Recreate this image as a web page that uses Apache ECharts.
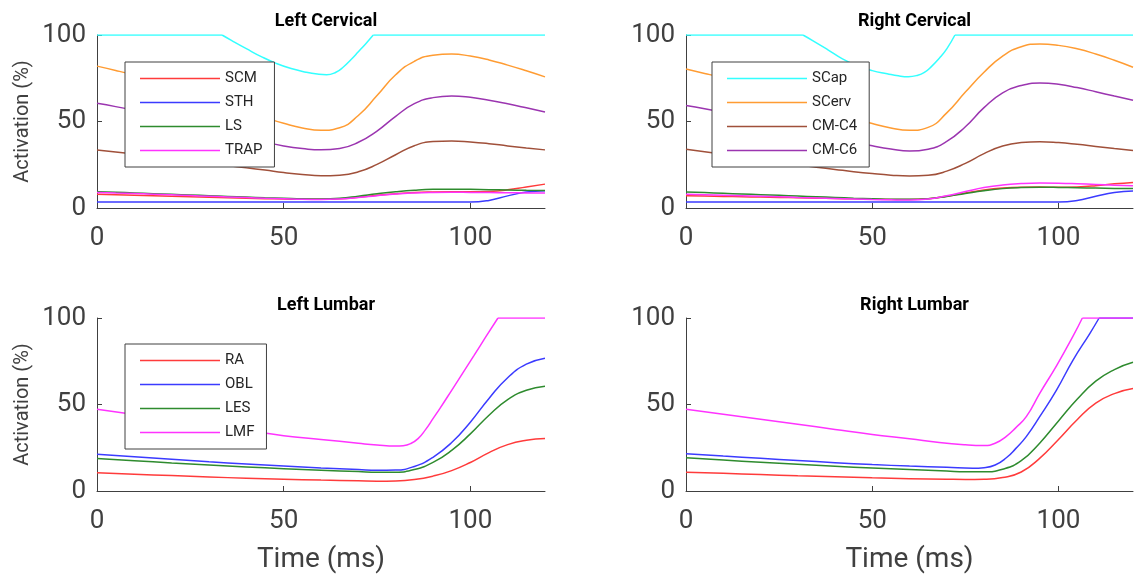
<!DOCTYPE html>
<html>
<head>
<meta charset="utf-8">
<script src="https://cdn.jsdelivr.net/npm/echarts@6/dist/echarts.min.js"></script>
<style>
  html, body { margin: 0; padding: 0; background: #fff; }
  #chart { width: 1134px; height: 581px; }
</style>
</head>
<body>
<div id="chart"></div>
<script>
// time grids (ms)
const timeCerv = [0, 5, 10, 15, 20, 25, 30, 35, 40, 45, 50, 55, 60, 65, 70, 75, 80, 85, 90, 95, 100, 105, 110, 115, 120]
const timeLumb = [0, 10, 20, 30, 40, 50, 60, 70, 75, 80, 85, 90, 95, 100, 105, 110, 115, 120]

// Left Cervical (activation %)
const lcSCM = [8.0, 7.7, 7.4, 7.1, 6.8, 6.5, 6.2, 5.9, 5.6, 5.4, 5.2, 5.0, 5.0, 5.3, 6.2, 7.3, 8.3, 9.0, 9.3, 9.4, 9.4, 9.6, 10.5, 12.2, 13.8]
const lcSTH = [3.4, 3.4, 3.4, 3.4, 3.4, 3.4, 3.4, 3.4, 3.4, 3.4, 3.4, 3.4, 3.4, 3.4, 3.4, 3.4, 3.4, 3.4, 3.4, 3.4, 3.4, 4.4, 7.0, 9.2, 10.0]
const lcLS = [9.4, 9.1, 8.7, 8.3, 7.9, 7.5, 7.1, 6.7, 6.3, 5.9, 5.6, 5.3, 5.2, 5.6, 6.8, 8.2, 9.4, 10.3, 10.8, 10.9, 10.8, 10.6, 10.4, 10.2, 10.1]
const lcTRAP = [9.0, 8.7, 8.4, 8.0, 7.6, 7.2, 6.8, 6.4, 6.0, 5.6, 5.3, 5.0, 4.9, 5.2, 6.0, 7.1, 8.1, 8.7, 9.0, 9.1, 9.0, 8.9, 8.8, 8.7, 8.6]
const lcSCapT = [0, 33.5, 36, 40, 44, 48, 52, 56, 59, 61.5, 64, 66, 68, 70, 72, 74, 120]
const lcSCap = [100, 100, 96.9, 92.1, 87.5, 83.6, 80.6, 78.5, 77.4, 77, 78.5, 81.5, 85.7, 90.3, 95, 100, 100]
const lcSCerv = [82, 79.5, 76.8, 73.8, 70.5, 67, 63.3, 59.5, 55.7, 52.2, 49, 46.3, 44.9, 46.4, 53.5, 65, 77, 84.8, 88.3, 89, 87.8, 85.6, 82.6, 79.3, 75.8]
const lcC4 = [33.5, 32.4, 31.2, 29.9, 28.6, 27.2, 25.8, 24.5, 23.2, 21.9, 20.5, 19.4, 18.7, 19, 20.9, 25.2, 30.8, 36, 38.4, 38.8, 38.2, 37.2, 35.9, 34.7, 33.6]
const lcC6 = [60.5, 58.6, 56.5, 54.2, 51.8, 49.2, 46.4, 43.6, 40.8, 38.1, 35.9, 34.4, 33.6, 34.4, 38, 44.5, 53, 60.3, 63.8, 64.8, 64, 62.3, 60.2, 57.9, 55.5]

// Right Cervical
const rcSCM = [7.1, 6.9, 6.7, 6.5, 6.3, 6.1, 5.9, 5.7, 5.5, 5.3, 5.1, 4.9, 4.9, 5.4, 6.8, 8.7, 10.4, 11.5, 12, 12.1, 12, 12.2, 12.9, 14, 14.8]
const rcSTH = [3.4, 3.4, 3.4, 3.4, 3.4, 3.4, 3.4, 3.4, 3.4, 3.4, 3.4, 3.4, 3.4, 3.4, 3.4, 3.4, 3.4, 3.4, 3.4, 3.4, 3.4, 4.3, 6.8, 9.0, 9.8]
const rcLS = [9.2, 8.9, 8.5, 8.1, 7.7, 7.3, 6.9, 6.5, 6.1, 5.7, 5.4, 5.1, 5.0, 5.4, 6.7, 8.4, 10, 11.2, 11.8, 12, 11.9, 11.7, 11.5, 11.3, 11.2]
const rcTRAP = [8, 7.7, 7.4, 7.1, 6.8, 6.5, 6.1, 5.8, 5.5, 5.2, 4.9, 4.7, 4.6, 5.2, 7.1, 9.5, 11.8, 13.3, 14.1, 14.4, 14.3, 14, 13.6, 13.2, 12.8]
const rcSCapT = [0, 31.4, 34, 38, 42, 46, 50, 54, 57, 59.7, 62, 64, 66, 68, 70, 72.2, 120]
const rcSCap = [100, 100, 96.8, 91.6, 86.2, 82.2, 79.4, 77.6, 76.4, 75.9, 76.6, 78.4, 82, 86.5, 92, 100, 100]
const rcSCerv = [80.3, 77.8, 75.2, 72.4, 69.4, 66.2, 62.8, 59.2, 55.5, 52, 48.8, 46.2, 44.9, 46.6, 55, 67, 78.5, 87.8, 93.2, 94.8, 94, 92, 89, 85.4, 81.4]
const rcC4 = [33.9, 32.5, 31, 29.5, 28, 26.5, 25, 23.6, 22.3, 21, 19.9, 19, 18.5, 18.9, 21.3, 25.8, 31.4, 35.8, 37.8, 38.3, 37.8, 36.8, 35.6, 34.4, 33.3]
const rcC6 = [59.2, 57.4, 55.4, 53.2, 50.9, 48.5, 46, 43.4, 40.8, 38.3, 36, 34.1, 32.9, 34, 38.5, 47, 58, 66.6, 70.8, 72.2, 71.5, 69.6, 67.2, 64.7, 62.3]

// Left Lumbar
const llRA = [10.5, 9.7, 8.9, 8.1, 7.4, 6.8, 6.3, 5.9, 5.7, 5.8, 6.6, 8.6, 11.8, 16.5, 22.2, 26.8, 29.3, 30.3]
const llOBL = [21.3, 19.8, 18.3, 16.9, 15.6, 14.4, 13.3, 12.4, 12, 12.1, 14.2, 19.5, 28, 39.8, 53.5, 65.5, 73.3, 76.8]
const llLES = [18.8, 17.5, 16.2, 15, 13.9, 12.9, 12, 11.2, 10.8, 10.9, 12.4, 16.5, 23.5, 33, 43.8, 52.8, 58.2, 60.5]
const llLMFT = [0, 10, 20, 30, 40, 50, 60, 70, 75, 80, 82, 84, 86, 88, 90, 92, 95, 98, 101, 104, 107.4, 120]
const llLMF = [47.3, 44.2, 41.2, 38.1, 35, 32, 29.8, 27.6, 26.6, 26, 26.2, 27.4, 30.3, 35.5, 41.8, 48.2, 58.2, 68.3, 78.4, 88.6, 100, 100]

// Right Lumbar
const rlRA = [10.9, 10.2, 9.5, 8.8, 8.2, 7.6, 7.1, 6.8, 6.7, 6.8, 7.8, 11, 19, 29.8, 41.2, 50.8, 56.3, 59.2]
const rlOBLT = [0, 10, 20, 30, 40, 50, 60, 70, 77, 80, 83, 86, 88.5, 91.4, 95, 99.5, 103.9, 108.4, 110.9, 120]
const rlOBL = [21.6, 20.2, 18.9, 17.6, 16.4, 15.3, 14.4, 13.7, 13.2, 13.5, 15, 19.2, 24.5, 31.6, 43.1, 58.5, 75.7, 91, 100, 100]
const rlLES = [19.2, 17.9, 16.6, 15.4, 14.3, 13.3, 12.4, 11.5, 11.1, 11.1, 12.6, 17.5, 27.8, 40.5, 53, 63.5, 70.2, 74.4]
const rlLMFT = [0, 10, 20, 30, 40, 50, 60, 68, 75, 80, 83, 86, 88.5, 91.4, 95, 99.5, 103.9, 106.4, 120]
const rlLMF = [47.3, 44.4, 41.5, 38.6, 35.6, 32.7, 30.2, 28, 26.7, 26.3, 27.6, 31.6, 36.5, 43.1, 56.6, 72.5, 89.5, 100, 100]

const titles = ['Left Cervical', 'Right Cervical', 'Left Lumbar', 'Right Lumbar']
const yTicks = [0, 50, 100]
const xTicks = [0, 50, 100]

const colors = {
  red: '#ff3b3b', blue: '#3b3bff', green: '#2e8b2e', magenta: '#ff33ff',
  cyan: '#33ffff', orange: '#ff9c33', brown: '#a0503a', purple: '#9b35b0'
}

const axisColor = '#404040'
const font = 'Roboto'

const grids = [
  { left: 97, top: 35, width: 448, height: 173 },
  { left: 686, top: 35, width: 447, height: 173 },
  { left: 97, top: 318, width: 448, height: 173 },
  { left: 686, top: 318, width: 447, height: 173 }
]

const pairs = (xs, ys) => xs.map((x, i) => [x, ys[i]])

const line = (name, color, idx, xs, ys, smooth = 0.5) => ({
  name,
  type: 'line',
  xAxisIndex: idx,
  yAxisIndex: idx,
  data: pairs(xs, ys),
  symbol: 'none',
  smooth,
  lineStyle: { color, width: 1.5 },
  itemStyle: { color }
})

// series that saturate at 100%: smooth curve between the corners, straight flat parts
const clampedLine = (name, color, idx, xs, ys) => {
  const free = ys.map((y, i) => (y < 100 ? i : -1)).filter(i => i >= 0)
  const a = Math.max(free[0] - 1, 0)
  const b = Math.min(free[free.length - 1] + 1, ys.length - 1)
  return [
    line(name, color, idx, xs.slice(a, b + 1), ys.slice(a, b + 1)),
    line(name, color, idx, xs, ys.map(y => (y >= 100 ? y : null)), false)
  ]
}

const cervSeries = (idx, d) => [
  line('SCM', colors.red, idx, timeCerv, d.scm),
  line('STH', colors.blue, idx, timeCerv, d.sth),
  line('LS', colors.green, idx, timeCerv, d.ls),
  line('TRAP', colors.magenta, idx, timeCerv, d.trap),
  ...clampedLine('SCap', colors.cyan, idx, d.scapT, d.scap),
  line('SCerv', colors.orange, idx, timeCerv, d.scerv),
  line('CM-C4', colors.brown, idx, timeCerv, d.c4),
  line('CM-C6', colors.purple, idx, timeCerv, d.c6)
]

const lumbSeries = (idx, d) => [
  line('RA', colors.red, idx, timeLumb, d.ra),
  ...(d.oblT ? clampedLine('OBL', colors.blue, idx, d.oblT, d.obl) : [line('OBL', colors.blue, idx, timeLumb, d.obl)]),
  line('LES', colors.green, idx, timeLumb, d.les),
  ...clampedLine('LMF', colors.magenta, idx, d.lmfT, d.lmf)
]

const series = [].concat(
  cervSeries(0, { scm: lcSCM, sth: lcSTH, ls: lcLS, trap: lcTRAP, scapT: lcSCapT, scap: lcSCap, scerv: lcSCerv, c4: lcC4, c6: lcC6 }),
  cervSeries(1, { scm: rcSCM, sth: rcSTH, ls: rcLS, trap: rcTRAP, scapT: rcSCapT, scap: rcSCap, scerv: rcSCerv, c4: rcC4, c6: rcC6 }),
  lumbSeries(2, { ra: llRA, obl: llOBL, les: llLES, lmfT: llLMFT, lmf: llLMF }),
  lumbSeries(3, { ra: rlRA, oblT: rlOBLT, obl: rlOBL, les: rlLES, lmfT: rlLMFT, lmf: rlLMF })
)

const xAxes = grids.map((g, i) => ({
  type: 'value',
  gridIndex: i,
  min: 0,
  max: 120,
  axisLine: { show: true, lineStyle: { color: axisColor, width: 1 } },
  axisTick: { show: true, inside: true, length: 5, customValues: xTicks, lineStyle: { color: axisColor } },
  axisLabel: { customValues: xTicks, fontSize: 26, color: axisColor, margin: 17, fontFamily: font },
  splitLine: { show: false },
  name: i >= 2 ? 'Time (ms)' : '',
  nameLocation: 'middle',
  nameGap: 55,
  nameTextStyle: { fontSize: 28, color: axisColor, fontFamily: font }
}))

const yAxes = grids.map((g, i) => ({
  type: 'value',
  gridIndex: i,
  min: 0,
  max: 100,
  axisLine: { show: true, lineStyle: { color: axisColor, width: 1 } },
  axisTick: { show: true, inside: true, length: 5, customValues: yTicks, lineStyle: { color: axisColor } },
  axisLabel: { customValues: yTicks, fontSize: 26, color: axisColor, margin: 11, fontFamily: font },
  splitLine: { show: false },
  name: i % 2 === 0 ? 'Activation (%)' : '',
  nameLocation: 'middle',
  nameGap: 64,
  nameTextStyle: { fontSize: 20, color: axisColor, fontFamily: font }
}))

const legendBase = {
  orient: 'vertical',
  backgroundColor: '#fff',
  borderColor: axisColor,
  borderWidth: 1,
  padding: [9, 12, 9, 15],
  icon: 'rect',
  itemWidth: 80,
  itemHeight: 1.5,
  itemGap: 9,
  selectedMode: false,
  textStyle: { fontSize: 15, color: '#262626', fontFamily: font }
}

const option = {
  animation: false,
  backgroundColor: '#fff',
  title: titles.map((t, i) => ({
    text: t,
    left: grids[i].left + grids[i].width / 2,
    top: i < 2 ? 7 : 291,
    textAlign: 'center',
    textStyle: { fontSize: 18, fontWeight: 'bold', color: '#000', fontFamily: font }
  })),
  legend: [
    Object.assign({}, legendBase, { left: 125, top: 62, data: ['SCM', 'STH', 'LS', 'TRAP'] }),
    Object.assign({}, legendBase, { left: 712, top: 62, data: ['SCap', 'SCerv', 'CM-C4', 'CM-C6'] }),
    Object.assign({}, legendBase, { left: 125, top: 344, data: ['RA', 'OBL', 'LES', 'LMF'] })
  ],
  grid: grids.map(g => Object.assign({ outerBoundsMode: 'none', containLabel: false }, g)),
  xAxis: xAxes,
  yAxis: yAxes,
  series
}

const chart = echarts.init(document.getElementById('chart'))
chart.setOption(option)
</script>
</body>
</html>
